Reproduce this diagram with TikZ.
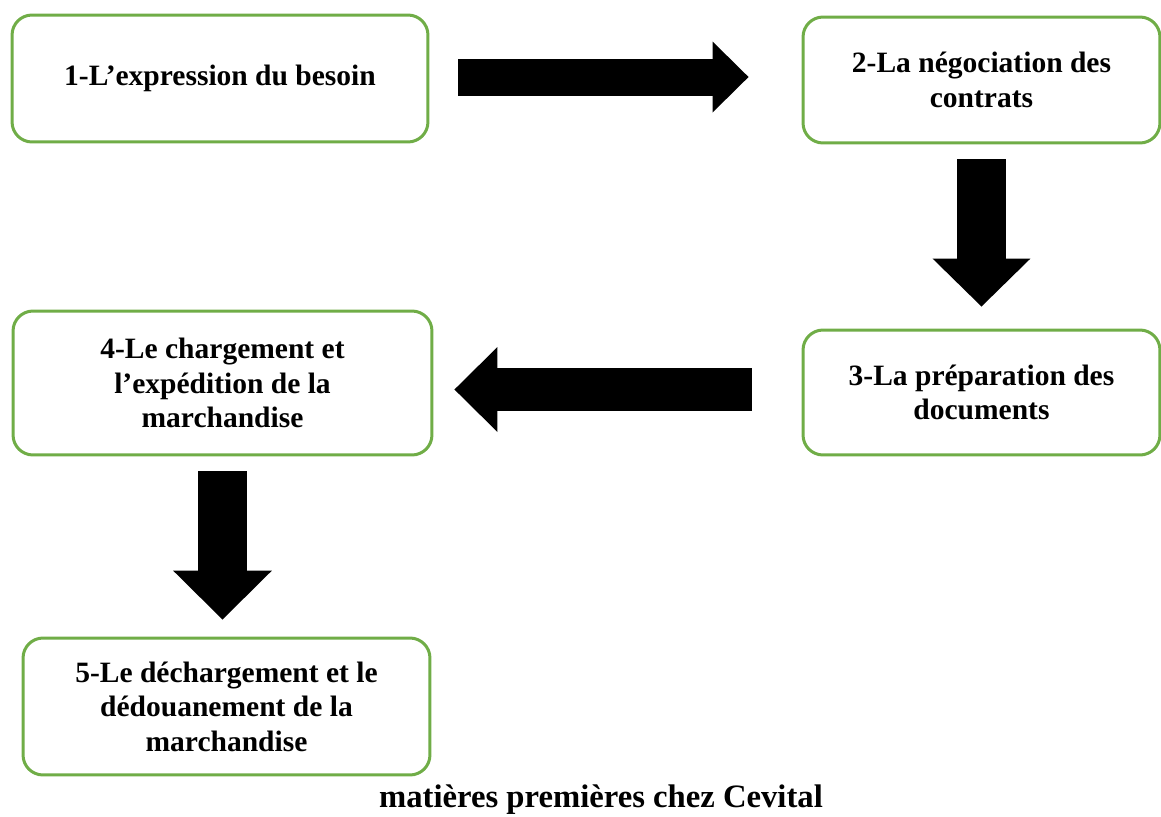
\documentclass[tikz,border=0pt]{standalone}
\usepackage{fontspec}
\setmainfont{Liberation Serif}
\usetikzlibrary{positioning,arrows.meta}
\definecolor{boxgreen}{RGB}{112,173,71}

\begin{document}
\begin{tikzpicture}[
    x=0.02cm, y=-0.02cm,
    stepbox/.style={rectangle, draw=boxgreen, line width=0.06cm, fill=white, rounded corners=0.4cm, align=center, font=\bfseries\fontsize{16.8}{19.6}\selectfont},
    blockarrow/.style n args={3}{line width=#1, -{Triangle[width=#2, length=#3, line width=0pt]}},
]
\useasboundingbox (0,0) rectangle (1161,816);

% Steps
\node[stepbox, minimum width=8.32cm, minimum height=2.54cm] (besoin) at (220,78.5) {1-L’expression du besoin};
\node[stepbox, minimum width=7.14cm, minimum height=2.52cm] (contrats) at (981.5,80) {2-La négociation des\\contrats};
\node[stepbox, minimum width=7.14cm, minimum height=2.50cm] (documents) at (981.5,392.5) {3-La préparation des\\documents};
\node[stepbox, minimum width=8.38cm, minimum height=2.88cm] (chargement) at (222.5,383) {4-Le chargement et\\l’expédition de la\\marchandise};
\node[stepbox, minimum width=8.14cm, minimum height=2.74cm] (dechargement) at (226.5,706.5) {5-Le déchargement et le\\dédouanement de la\\marchandise};

% Caption
\node[anchor=base, font=\bfseries\fontsize{18.6}{22}\selectfont] (caption) at (601,807) {matières premières chez Cevital};

% Arrows
\draw[blockarrow={0.74cm}{1.42cm}{0.72cm}, shorten <=0.58cm, shorten >=1.06cm] ([yshift=0.03cm]besoin.east) -- ([yshift=0.03cm]besoin.east -| contrats.west);
\draw[blockarrow={0.98cm}{1.96cm}{0.96cm}, shorten <=0.3cm, shorten >=0.44cm] (contrats.south) -- (documents.north);
\draw[blockarrow={0.86cm}{1.70cm}{0.86cm}, shorten <=1.0cm, shorten >=0.42cm] ([yshift=0.06cm]documents.west) -- ([yshift=0.06cm]documents.west -| chargement.east);
\draw[blockarrow={0.98cm}{1.98cm}{0.98cm}, shorten <=0.3cm, shorten >=0.34cm] (chargement.south) -- (chargement.south |- dechargement.north);

\end{tikzpicture}
\end{document}
